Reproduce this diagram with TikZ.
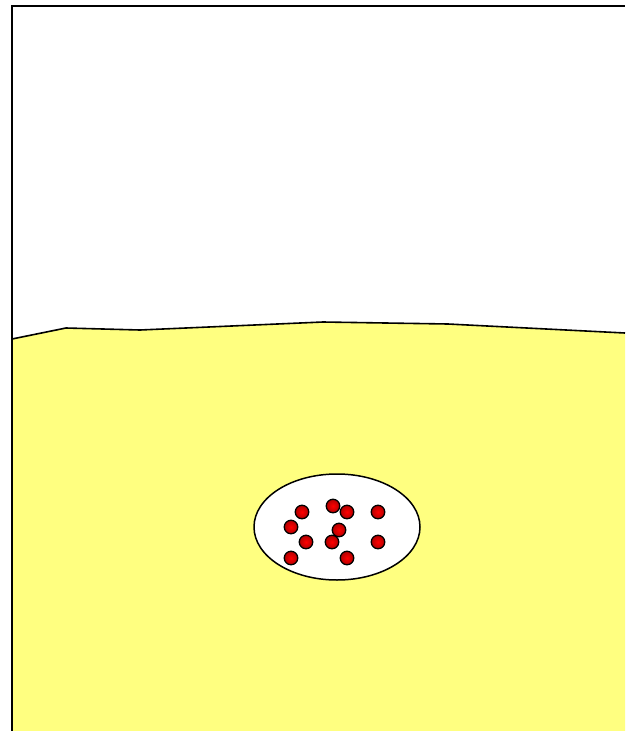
\documentclass[tikz,border=0pt]{standalone}
\usepackage{tikz}
\usetikzlibrary{shapes.geometric}

\definecolor{sand}{RGB}{255,255,128}
\definecolor{blood}{RGB}{255,0,0}

\begin{document}
\begin{tikzpicture}[x=1pt,y=-1pt,
    ball/.style={circle,draw=black,line width=1.3pt,inner sep=0pt,minimum size=13.5pt,
      shading=radial,inner color=blood,outer color=blood!70!black}]
    \useasboundingbox (0,0) rectangle (625,731);
    % ground and the wall
    \fill[sand] (12,339) -- (66,328) -- (140,330) -- (323,322) -- (448,324) -- (625,333)
      -- (625,731) -- (12,731) -- cycle;
    \draw[line width=1.6pt] (12,339) -- (66,328) -- (140,330) -- (323,322) -- (448,324) -- (625,333);
    \draw[line width=2.2pt] (12,731) -- (12,6) -- (625,6);
    % the pocket
    \node[draw,ellipse,fill=white,line width=1.5pt,minimum width=166pt,minimum height=106pt] (pocket) at (337,527) {};
    \foreach \x/\y [count=\i] in {302/512,333/506,347/512,378/512,291/527,339/530,
        306/542,332/542,378/542,291/558,347/558}
      \node[ball] (b\i) at (\x,\y) {};
  \end{tikzpicture}
\end{document}
